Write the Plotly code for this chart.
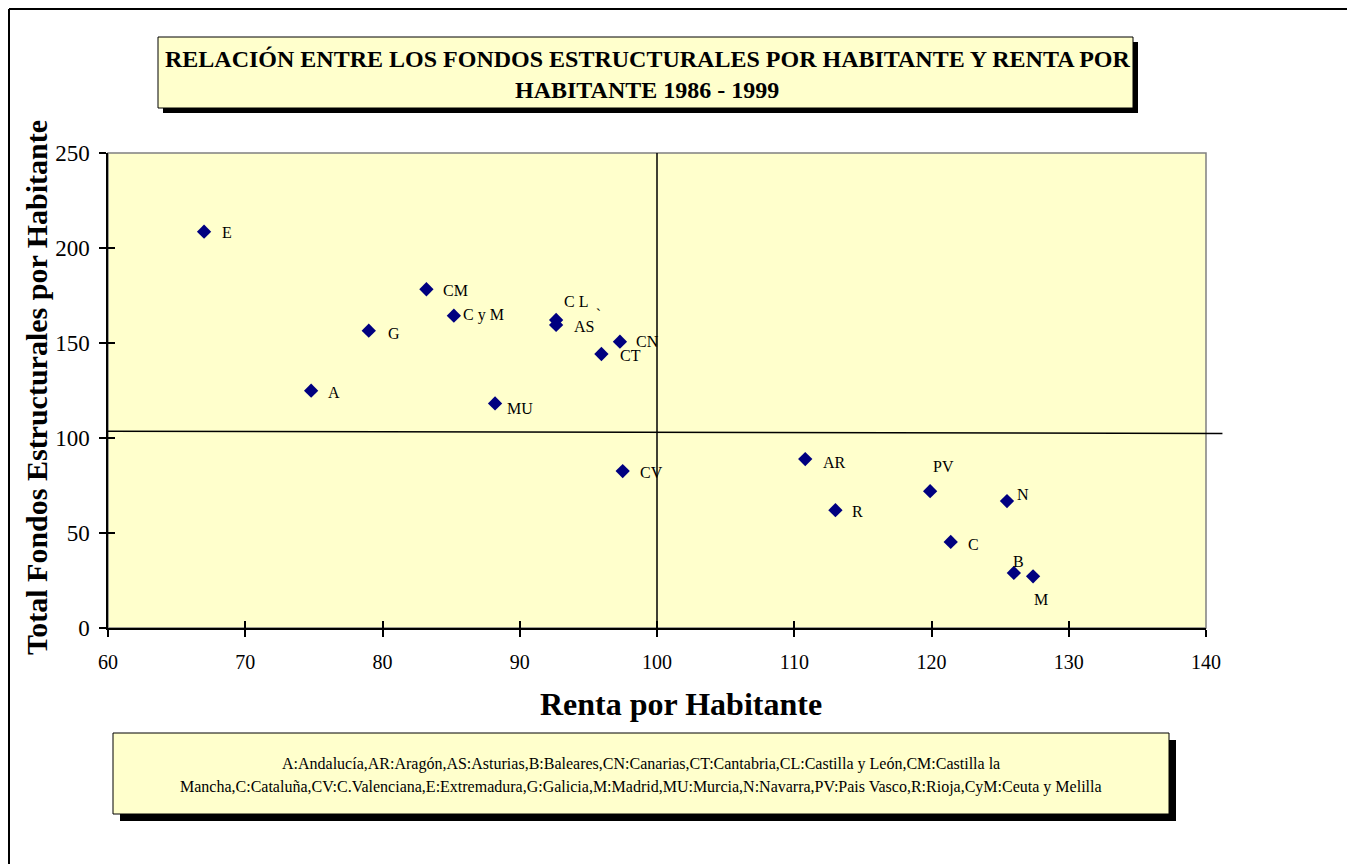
import plotly.graph_objects as go

# ---- data ----
codes = ["E", "A", "G", "CM", "CyM", "MU", "CL", "AS", "CT", "CN", "CV",
         "AR", "R", "PV", "N", "C", "B", "M"]
labels = ["E", "A", "G", "CM", "C y M", "MU", "C L  ˎ", "AS", "CT", "CN", "CV",
          "AR", "R", "PV", "N", "C", "B", "M"]
renta = [67.0, 74.8, 79.0, 83.2, 85.2, 88.2, 92.65, 92.65, 95.95, 97.3, 97.5,
         110.8, 113.0, 119.9, 125.5, 121.4, 126.0, 127.4]
fondos = [208.6, 124.9, 156.5, 178.3, 164.4, 118.2, 162.1, 159.5, 144.2, 150.7, 82.6,
          88.9, 62.0, 72.0, 66.8, 45.3, 29.0, 27.2]

x_ticks = [60, 70, 80, 90, 100, 110, 120, 130, 140]
y_ticks = [0, 50, 100, 150, 200, 250]
x_range = [60, 140]
y_range = [0, 250]

vline_x = 100
hline_x = [60, 141.2]
hline_y = [103.6, 102.4]

title_lines = ["RELACIÓN ENTRE LOS FONDOS ESTRUCTURALES POR HABITANTE Y RENTA POR",
               "HABITANTE 1986 - 1999"]
note_lines = ["A:Andalucía,AR:Aragón,AS:Asturias,B:Baleares,CN:Canarias,CT:Cantabria,CL:Castilla y León,CM:Castilla la",
              "Mancha,C:Cataluña,CV:C.Valenciana,E:Extremadura,G:Galicia,M:Madrid,MU:Murcia,N:Navarra,PV:Pais Vasco,R:Rioja,CyM:Ceuta y Melilla"]
x_title = "Renta por Habitante"
y_title = "Total Fondos Estructurales por Habitante"

# label offsets in pixels (dx to text left edge, dy downwards)
label_offsets = [(16, 1), (15, 2), (17, 3), (15, 1), (7, -1), (10, 5), (6, -18), (16, 2),
                 (17, 1), (14, 0), (15, 1), (16, 3), (15, 1), (1, -25), (8, -7),
                 (15, 3), (-3, -11), (-1, 23)]

# ---- layout geometry (page body has an 8px margin) ----
OFF = 8
W, H = 1355 - OFF, 864 - OFF
L, R, T, B = 108 - OFF, 149, 153 - OFF, 236
PW = W - L - R
PH = H - T - B
FONT = "Liberation Serif, Times New Roman, serif"
BG = "#FFFFCC"


def px(xp):
    return (xp - OFF - L) / PW


def py(yp):
    return 1 - (yp - OFF - T) / PH


def xdata_to_paper(v):
    return (v - x_range[0]) / (x_range[1] - x_range[0])


def ydata_to_paper(v):
    return (v - y_range[0]) / (y_range[1] - y_range[0])


fig = go.Figure()
fig.add_trace(go.Scatter(
    x=renta, y=fondos, mode="markers",
    marker=dict(symbol="diamond", size=11, color="#000080", line=dict(width=0)),
    hovertext=codes, showlegend=False,
))
# invisible trace for overlay axes (inside ticks)
fig.add_trace(go.Scatter(x=[x_range[0]], y=[y_range[0]], xaxis="x2", yaxis="y2",
                         mode="markers", marker=dict(opacity=0), showlegend=False,
                         hoverinfo="skip"))

shapes = []
# outer frame (left / top / right edges)
frame_l, frame_t, frame_r, frame_b = 9, 9, 1348, 870
frame_line = dict(color="black", width=2)
shapes.append(dict(type="line", xref="paper", yref="paper",
                   x0=px(frame_l), x1=px(frame_l), y0=py(frame_t), y1=py(frame_b), line=frame_line))
shapes.append(dict(type="line", xref="paper", yref="paper",
                   x0=px(frame_l), x1=px(frame_r), y0=py(frame_t), y1=py(frame_t), line=frame_line))
shapes.append(dict(type="line", xref="paper", yref="paper",
                   x0=px(frame_r), x1=px(frame_r), y0=py(frame_t), y1=py(frame_b), line=frame_line))
# plot area border (gray top/right)
shapes.append(dict(type="rect", xref="paper", yref="paper", x0=0, x1=1, y0=0, y1=1,
                   line=dict(color="#808080", width=1.5), layer="below"))
# vertical line at 100
shapes.append(dict(type="line", xref="x", yref="y", x0=vline_x, x1=vline_x,
                   y0=y_range[0], y1=y_range[1], line=dict(color="black", width=1.5)))
# horizontal line (extends past plot)
shapes.append(dict(type="line", xref="paper", yref="paper",
                   x0=xdata_to_paper(hline_x[0]), x1=xdata_to_paper(hline_x[1]),
                   y0=ydata_to_paper(hline_y[0]), y1=ydata_to_paper(hline_y[1]),
                   line=dict(color="black", width=1.5)))
# title box + shadow
shapes.append(dict(type="rect", xref="paper", yref="paper",
                   x0=px(163), x1=px(1138), y0=py(113), y1=py(42),
                   fillcolor="black", line=dict(width=0)))
shapes.append(dict(type="rect", xref="paper", yref="paper",
                   x0=px(158), x1=px(1133), y0=py(108), y1=py(37),
                   fillcolor=BG, line=dict(color="black", width=1)))
# note box + shadow
shapes.append(dict(type="rect", xref="paper", yref="paper",
                   x0=px(120), x1=px(1176), y0=py(821), y1=py(740),
                   fillcolor="black", line=dict(width=0)))
shapes.append(dict(type="rect", xref="paper", yref="paper",
                   x0=px(113), x1=px(1169), y0=py(814), y1=py(733),
                   fillcolor=BG, line=dict(color="black", width=1)))

annotations = []
for i, t in enumerate(title_lines):
    annotations.append(dict(xref="paper", yref="paper", x=px(647), y=py(59 + 31 * i),
                            text="<b>" + t + "</b>", showarrow=False,
                            xanchor="center", yanchor="middle",
                            font=dict(family=FONT, size=24, color="black")))
for i, t in enumerate(note_lines):
    annotations.append(dict(xref="paper", yref="paper", x=px(641), y=py(764 + 23 * i),
                            text=t, showarrow=False, xanchor="center", yanchor="middle",
                            font=dict(family=FONT, size=16, color="black")))
annotations.append(dict(xref="paper", yref="paper", x=px(681), y=py(704),
                        text="<b>" + x_title + "</b>", showarrow=False,
                        xanchor="center", yanchor="middle",
                        font=dict(family=FONT, size=32, color="black")))
annotations.append(dict(xref="paper", yref="paper", x=px(36), y=py(388),
                        text="<b>" + y_title + "</b>", showarrow=False, textangle=-90,
                        xanchor="center", yanchor="middle",
                        font=dict(family=FONT, size=30, color="black")))
for xv, yv, lab, (dx, dy) in zip(renta, fondos, labels, label_offsets):
    annotations.append(dict(xref="x", yref="y", x=xv, y=yv, text=lab, showarrow=False,
                            xanchor="left", yanchor="middle", xshift=dx, yshift=-dy,
                            font=dict(family=FONT, size=16, color="black")))

axis_common = dict(showgrid=False, zeroline=False, linecolor="black", linewidth=1.5,
                   ticks="outside", ticklen=7, tickwidth=1.5, tickcolor="black",
                   showline=True)

fig.update_layout(
    width=W, height=H,
    margin=dict(l=L, r=R, t=T, b=B, pad=0),
    paper_bgcolor="white", plot_bgcolor=BG,
    showlegend=False,
    xaxis=dict(range=x_range, tickvals=x_ticks, ticklabelstandoff=8,
               tickfont=dict(family=FONT, size=20, color="black"), **axis_common),
    yaxis=dict(range=y_range, tickvals=y_ticks, ticklabelstandoff=5,
               tickfont=dict(family=FONT, size=23, color="black"), **axis_common),
    xaxis2=dict(range=x_range, tickvals=x_ticks, overlaying="x", anchor="y2", side="bottom",
                showticklabels=False, showline=False, showgrid=False, zeroline=False,
                ticks="inside", ticklen=7, tickwidth=1.5, tickcolor="black"),
    yaxis2=dict(range=y_range, tickvals=y_ticks, overlaying="y", anchor="x2", side="left",
                showticklabels=False, showline=False, showgrid=False, zeroline=False,
                ticks="inside", ticklen=7, tickwidth=1.5, tickcolor="black"),
    shapes=shapes,
    annotations=annotations,
)

fig.write_html("out.html")
